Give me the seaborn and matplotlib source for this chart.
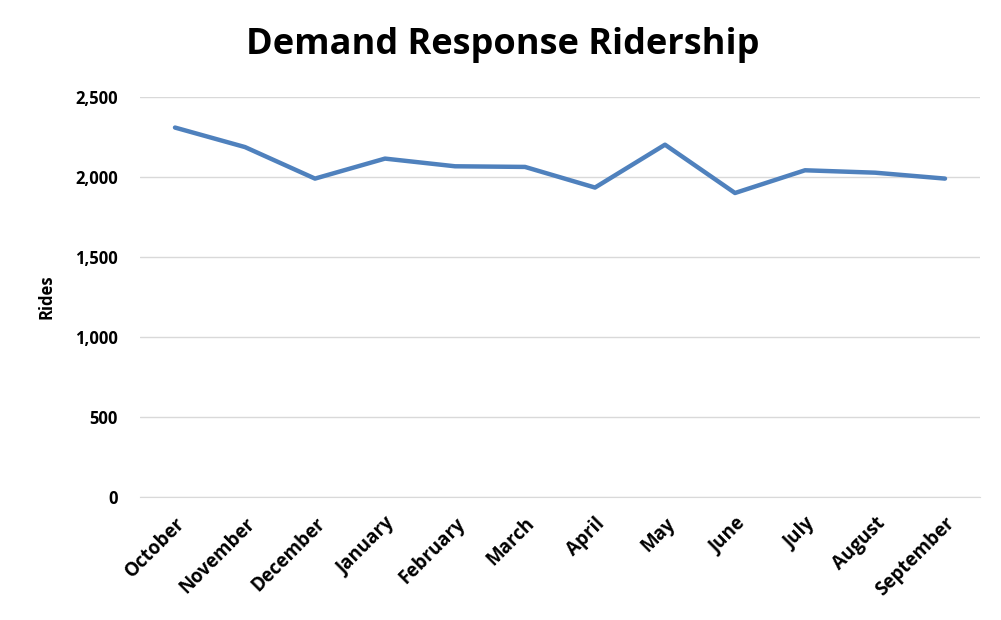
import pandas as pd
import seaborn as sns
import matplotlib.pyplot as plt

months = ["October", "November", "December", "January", "February", "March",
          "April", "May", "June", "July", "August", "September"]
rides = [2309, 2187, 1990, 2115, 2067, 2063, 1934, 2202, 1900, 2042, 2027, 1990]

sns.set_style("white")
plt.rcParams['font.family'] = ['Open Sans', 'DejaVu Sans']
plt.rcParams['text.color'] = 'black'
plt.rcParams['axes.labelcolor'] = 'black'
plt.rcParams['xtick.color'] = 'black'
plt.rcParams['ytick.color'] = 'black'

df = pd.DataFrame({"month": months, "rides": rides})
df["pos"] = range(len(months))

fig = plt.figure(figsize=(10.01, 6.20), dpi=100)
ax = fig.add_axes([140 / 1001, 1 - 497 / 620, 840 / 1001, 400 / 620])

sns.lineplot(data=df, x="pos", y="rides", ax=ax, color="#4F81BD", linewidth=3.2)

ax.set_xlim(-0.5, len(months) - 0.5)
ax.set_ylim(0, 2500)
ax.set_yticks(range(0, 2501, 500))
ax.set_yticklabels([f"{v:,}" for v in range(0, 2501, 500)], fontsize=12, fontweight="bold")
ax.set_xticks(df["pos"])
ax.set_xticklabels(months, rotation=45, ha="right", rotation_mode="anchor",
                   fontsize=13.5, fontweight="bold")
ax.tick_params(axis="x", length=0, pad=12)
ax.tick_params(axis="y", length=0, pad=16)
ax.grid(axis="y", color="#D9D9D9", linewidth=1)
ax.set_axisbelow(True)
for side in ["top", "right", "left"]:
    ax.spines[side].set_visible(False)
ax.spines["bottom"].set_color("#D9D9D9")

ax.set_xlabel("")
ax.set_ylabel("Rides", fontsize=12, fontweight="bold", labelpad=14)
fig.text(0.502, 0.928, "Demand Response Ridership", ha="center", va="center",
         fontsize=26, fontweight="bold")

fig.savefig("out.png", dpi=100)
